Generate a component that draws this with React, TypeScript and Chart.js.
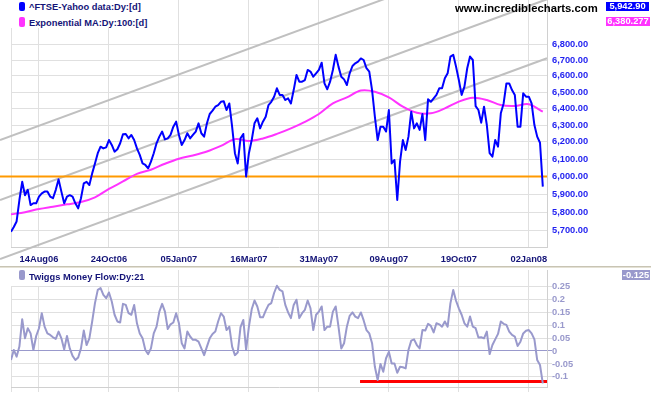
import React, { useEffect, useRef } from "react";
import { Chart, registerables } from "chart.js";

Chart.register(...registerables);

const FONT_FAMILY = "'Liberation Sans', Arial, Helvetica, sans-serif";

// x axis is measured in trading days since 17 Jul 2006
const DAY_MIN = 0;
const DAY_MAX = 383;
const PRICE_STEP = 2;
const EMA_STEP = 10;
const TMF_STEP = 2;

// ^FTSE close, one value every 2 trading days
const ftseClose = [
  5695, 5720, 5750, 5868, 5970, 5895, 5925, 5840, 5850, 5850,
  5887, 5905, 5915, 5915, 5887, 5878, 5925, 5984, 5915, 5850,
  5887, 5895, 5887, 5850, 5822, 5878, 5961, 5970, 5952, 6018,
  6075, 6134, 6172, 6162, 6168, 6211, 6182, 6143, 6157, 6192,
  6245, 6247, 6221, 6241, 6211, 6162, 6124, 6075, 6066, 6047,
  6085, 6134, 6192, 6231, 6261, 6215, 6221, 6241, 6290, 6320,
  6241, 6182, 6211, 6251, 6221, 6241, 6261, 6310, 6251, 6231,
  6310, 6366, 6386, 6410, 6420, 6440, 6444, 6390, 6430, 6290,
  6134, 6075, 6221, 6247, 6000, 6134, 6211, 6310, 6340, 6280,
  6320, 6350, 6420, 6440, 6471, 6523, 6482, 6482, 6451, 6461,
  6430, 6512, 6606, 6564, 6564, 6574, 6637, 6627, 6595, 6616,
  6637, 6683, 6553, 6517, 6564, 6637, 6733, 6658, 6595, 6578,
  6543, 6616, 6662, 6679, 6690, 6710, 6700, 6648, 6627, 6512,
  6350, 6211, 6290, 6290, 6261, 6390, 6075, 6095, 5868, 6085,
  6211, 6153, 6231, 6380, 6280, 6310, 6271, 6366, 6211, 6455,
  6440, 6461, 6482, 6523, 6523, 6585, 6616, 6722, 6733, 6658,
  6574, 6482, 6533, 6648, 6722, 6700, 6414, 6390, 6314, 6410,
  6300, 6134, 6114, 6211, 6172, 6370, 6430, 6553, 6553, 6512,
  6482, 6290, 6290, 6492, 6471, 6471, 6430, 6300, 6231, 6195,
  5943,
];

// Exponential MA 100, one value every 10 trading days
const emaValues = [
  5789, 5801, 5818, 5831, 5844, 5857, 5883, 5930, 5972, 6015,
  6039, 6073, 6102, 6121, 6144, 6177, 6216, 6205, 6220, 6247,
  6280, 6319, 6366, 6430, 6467, 6509, 6502, 6467, 6410, 6373,
  6370, 6400, 6441, 6465, 6451, 6420, 6415, 6425, 6380,
];

// Twiggs Money Flow 21, one value every 2 trading days
const tmfValues = [
  -0.035, 0.004, -0.022, 0.017, 0.123, 0.049, 0.088, 0.068, 0.004, 0.058,
  0.088, 0.146, 0.094, 0.068, 0.062, 0.053, 0.047, 0.075, 0.049, 0.006,
  0.058, 0.010, -0.019, -0.035, -0.025, 0.010, 0.079, 0.023, 0.049, 0.114,
  0.185, 0.236, 0.243, 0.217, 0.204, 0.226, 0.191, 0.140, 0.114, 0.110,
  0.182, 0.178, 0.146, 0.140, 0.178, 0.107, 0.068, 0.049, 0.004, -0.012,
  0.010, 0.068, 0.094, 0.152, 0.182, 0.152, 0.085, 0.103, 0.110, 0.146,
  0.107, 0.030, 0.010, 0.075, 0.056, 0.043, 0.043, 0.036, 0.010, -0.016,
  0.017, 0.049, 0.066, 0.075, 0.114, 0.146, 0.133, 0.081, 0.094, 0.017,
  -0.016, -0.006, 0.092, 0.120, 0.004, 0.094, 0.161, 0.195, 0.172, 0.130,
  0.130, 0.156, 0.178, 0.185, 0.224, 0.252, 0.236, 0.230, 0.178, 0.149,
  0.127, 0.178, 0.198, 0.127, 0.146, 0.159, 0.195, 0.165, 0.081, 0.140,
  0.152, 0.172, 0.081, 0.094, 0.094, 0.152, 0.172, 0.094, 0.010, 0.030,
  0.094, 0.136, 0.149, 0.133, 0.127, 0.149, 0.118, 0.081, 0.068, 0.030,
  -0.061, -0.112, -0.050, -0.080, -0.028, -0.003, -0.048, -0.048, -0.084, -0.061,
  -0.063, -0.067, 0.004, 0.040, 0.045, 0.023, 0.010, 0.081, 0.079, 0.105,
  0.097, 0.072, 0.107, 0.103, 0.094, 0.114, 0.094, 0.185, 0.236, 0.194,
  0.165, 0.140, 0.107, 0.094, 0.133, 0.094, 0.088, 0.052, 0.053, 0.049,
  0.075, -0.012, 0.023, 0.045, 0.066, 0.114, 0.105, 0.101, 0.075, 0.062,
  0.056, 0.019, 0.036, 0.068, 0.078, 0.081, 0.068, 0.045, -0.035, -0.054,
  -0.125,
];

const xTickDays = [0, 20, 70, 120, 170, 220, 270, 320, 370];
const xTickLabels = ["", "14Aug06", "24Oct06", "05Jan07", "16Mar07", "31May07", "09Aug07", "19Oct07", "02Jan08"];

const priceTicks = [5700, 5800, 5900, 6000, 6100, 6200, 6300, 6400, 6500, 6600, 6700, 6800];
const priceTickLabels = [
  "5,700.00", "5,800.00", "5,900.00", "6,000.00", "6,100.00", "6,200.00",
  "6,300.00", "6,400.00", "6,500.00", "6,600.00", "6,700.00", "6,800.00",
];
const PRICE_MIN = 5612.7;
const PRICE_MAX = 7091.7;

const tmfTicks = [-0.1, -0.05, 0, 0.05, 0.1, 0.15, 0.2, 0.25];
const tmfTickLabels = ["-0.1", "-0.05", "0", "0.05", "0.1", "0.15", "0.2", "0.25"];
const TMF_MIN = -0.13905;
const TMF_MAX = 0.31286;

// trend channel (day, price) end points
const channelUpper = [{ x: -7.86, y: 6211 }, { x: 383, y: 7511 }];
const channelMiddle = [{ x: -7.86, y: 5868 }, { x: 383, y: 7097 }];
const channelLower = [{ x: -7.86, y: 5549 }, { x: 383, y: 6711 }];
const supportLine = [{ x: -7.86, y: 6000 }, { x: 383, y: 6000 }];
const tmfLowLine = [{ x: 249.4, y: -0.118 }, { x: 383, y: -0.118 }];

const lastClose = "5,942.90";
const lastEma = "6,380.277";
const lastTmf = "-0.125";

const GRID = "#e0e0e0";
const BORDER = "#d0d0d0";

function zeroPad(s: any) {
  s.paddingTop = 0;
  s.paddingBottom = 0;
  s.paddingLeft = 0;
  s.paddingRight = 0;
}

export default function App() {
  const mainRef = useRef<HTMLCanvasElement | null>(null);
  const lowRef = useRef<HTMLCanvasElement | null>(null);

  useEffect(() => {
    const font = { family: FONT_FAMILY, size: 9.3, weight: "bold" as const };
    const priceData = ftseClose.map((v, i) => ({ x: i * PRICE_STEP, y: v }));
    const emaData = emaValues.map((v, i) => ({ x: i * EMA_STEP, y: v }));
    const tmfData = tmfValues.map((v, i) => ({ x: i * TMF_STEP, y: v }));

    const lineBase = { pointRadius: 0, borderJoinStyle: "round" as const, tension: 0 };

    const main = new Chart(mainRef.current as HTMLCanvasElement, {
      type: "line",
      data: {
        datasets: [
          { ...lineBase, label: "^FTSE-Yahoo data:Dy:[d]", data: priceData, borderColor: "#0000ff", borderWidth: 2 },
          { ...lineBase, label: "Exponential MA:Dy:100:[d]", data: emaData, borderColor: "#ff33ff", borderWidth: 2, tension: 0.35 },
          { ...lineBase, label: "support", data: supportLine, borderColor: "#ff9900", borderWidth: 2, clip: false as any },
          { ...lineBase, label: "channel upper", data: channelUpper, borderColor: "#c0c0c0", borderWidth: 2, clip: false as any },
          { ...lineBase, label: "channel middle", data: channelMiddle, borderColor: "#c0c0c0", borderWidth: 2, clip: false as any },
          { ...lineBase, label: "channel lower", data: channelLower, borderColor: "#c0c0c0", borderWidth: 2, clip: false as any },
        ],
      },
      options: {
        responsive: false,
        animation: false,
        events: [],
        layout: { padding: { left: 11, top: 0, right: 0, bottom: 0 } },
        plugins: { legend: { display: false }, tooltip: { enabled: false }, title: { display: false } },
        scales: {
          x: {
            type: "linear",
            min: DAY_MIN,
            max: DAY_MAX,
            afterBuildTicks: (s: any) => {
              s.ticks = xTickDays.map((v) => ({ value: v }));
            },
            ticks: {
              callback: (_v: any, i: number) => xTickLabels[i],
              font,
              color: "#141478",
              padding: 6.5,
              maxRotation: 0,
              autoSkip: false,
            },
            grid: { color: GRID, drawTicks: false },
            border: { display: true, color: BORDER },
            afterFit: (s: any) => {
              s.height = 19;
              zeroPad(s);
            },
          },
          y: {
            type: "logarithmic",
            position: "right",
            min: PRICE_MIN,
            max: PRICE_MAX,
            afterBuildTicks: (s: any) => {
              s.ticks = priceTicks.map((v) => ({ value: v }));
            },
            ticks: {
              callback: (_v: any, i: number) => priceTickLabels[i],
              font,
              color: "#1f1ff0",
              padding: 5,
              autoSkip: false,
            },
            grid: { color: GRID, drawTicks: false },
            border: { display: true, color: BORDER },
            afterFit: (s: any) => {
              s.width = 104;
              zeroPad(s);
            },
          },
        },
      },
    });

    const low = new Chart(lowRef.current as HTMLCanvasElement, {
      type: "line",
      data: {
        datasets: [
          { ...lineBase, label: "Twiggs Money Flow:Dy:21", data: tmfData, borderColor: "#9999cc", borderWidth: 2 },
          { ...lineBase, label: "low", data: tmfLowLine, borderColor: "#ff0000", borderWidth: 3, clip: false as any },
        ],
      },
      options: {
        responsive: false,
        animation: false,
        events: [],
        layout: { padding: { left: 11, top: 2, right: 0, bottom: 0 } },
        plugins: { legend: { display: false }, tooltip: { enabled: false }, title: { display: false } },
        scales: {
          x: {
            type: "linear",
            min: DAY_MIN,
            max: DAY_MAX,
            afterBuildTicks: (s: any) => {
              s.ticks = xTickDays.map((v) => ({ value: v }));
            },
            ticks: { display: false },
            grid: { color: GRID, drawTicks: true, tickLength: 5 },
            border: { display: true, color: BORDER },
            afterFit: (s: any) => {
              s.height = 8;
              zeroPad(s);
            },
          },
          y: {
            type: "linear",
            position: "right",
            min: TMF_MIN,
            max: TMF_MAX,
            afterBuildTicks: (s: any) => {
              s.ticks = tmfTicks.map((v) => ({ value: v }));
            },
            ticks: {
              callback: (_v: any, i: number) => tmfTickLabels[i],
              font,
              color: "#9999cc",
              padding: 0,
              autoSkip: false,
            },
            grid: {
              color: (c: any) => (c.tick && Math.abs(c.tick.value) < 1e-9 ? "#9999cc" : GRID),
              drawTicks: true,
              tickLength: 5,
            },
            border: { display: true, color: BORDER },
            afterFit: (s: any) => {
              s.width = 104;
              zeroPad(s);
            },
          },
        },
      },
    });

    return () => {
      main.destroy();
      low.destroy();
    };
  }, []);

  const txt: React.CSSProperties = {
    position: "absolute",
    fontFamily: FONT_FAMILY,
    fontWeight: "bold",
    fontSize: "9.3px",
    lineHeight: "10px",
    whiteSpace: "nowrap",
    color: "#141478",
  };
  const box = (left: number, top: number, h: number, bg: string): React.CSSProperties => ({
    position: "absolute",
    left,
    top,
    width: 6,
    height: h,
    borderRadius: 2,
    background: bg,
  });
  const valueBox = (left: number, top: number, w: number, h: number, bg: string): React.CSSProperties => ({
    position: "absolute",
    left,
    top,
    width: w,
    height: h,
    background: bg,
    color: "#ffffff",
    fontFamily: FONT_FAMILY,
    fontWeight: "bold",
    fontSize: "9.3px",
    lineHeight: `${h}px`,
    textAlign: "center",
    whiteSpace: "nowrap",
  });

  return (
    <div style={{ position: "fixed", left: 0, top: 0, width: 651, height: 395, background: "#ffffff", overflow: "hidden" }}>
      <canvas ref={mainRef} width={651} height={266} style={{ position: "absolute", left: 0, top: 0, width: 651, height: 266 }} />
      <div style={{ position: "absolute", left: 0, top: 266, width: 651, height: 1, background: "#c8c4b4" }} />
      <div style={{ position: "absolute", left: 0, top: 267, width: 651, height: 1, background: "#e4e1d4" }} />
      <canvas ref={lowRef} width={651} height={127} style={{ position: "absolute", left: 0, top: 268, width: 651, height: 127 }} />

      {/* main legend */}
      <div style={{ position: "absolute", left: 0, top: 0, width: 150, height: 28, background: "#ffffff" }} />
      <div style={box(19, 2, 9, "#0000ff")} />
      <div style={{ ...txt, left: 29, top: 2.4 }}>^FTSE-Yahoo data:Dy:[d]</div>
      <div style={box(19, 17, 10, "#ff33ff")} />
      <div style={{ ...txt, left: 29, top: 18.4 }}>Exponential MA:Dy:100:[d]</div>

      {/* watermark and last values */}
      <div
        style={{
          position: "absolute",
          left: 455,
          top: 1.5,
          fontFamily: FONT_FAMILY,
          fontWeight: "bold",
          fontSize: "11.3px",
          lineHeight: "13px",
          color: "#000000",
          whiteSpace: "nowrap",
        }}
      >
        www.incrediblecharts.com
      </div>
      <div style={valueBox(606, 2, 43, 9, "#0000ff")}>{lastClose}</div>
      <div style={valueBox(606, 17, 44, 9, "#ff33ff")}>{lastEma}</div>

      {/* lower legend */}
      <div style={{ position: "absolute", left: 0, top: 270, width: 150, height: 16, background: "#ffffff" }} />
      <div style={box(19, 270, 9.5, "#9999cc")} />
      <div style={{ ...txt, left: 29, top: 272 }}>Twiggs Money Flow:Dy:21</div>
      <div style={valueBox(622, 270, 28, 10, "#9999cc")}>{lastTmf}</div>
    </div>
  );
}
